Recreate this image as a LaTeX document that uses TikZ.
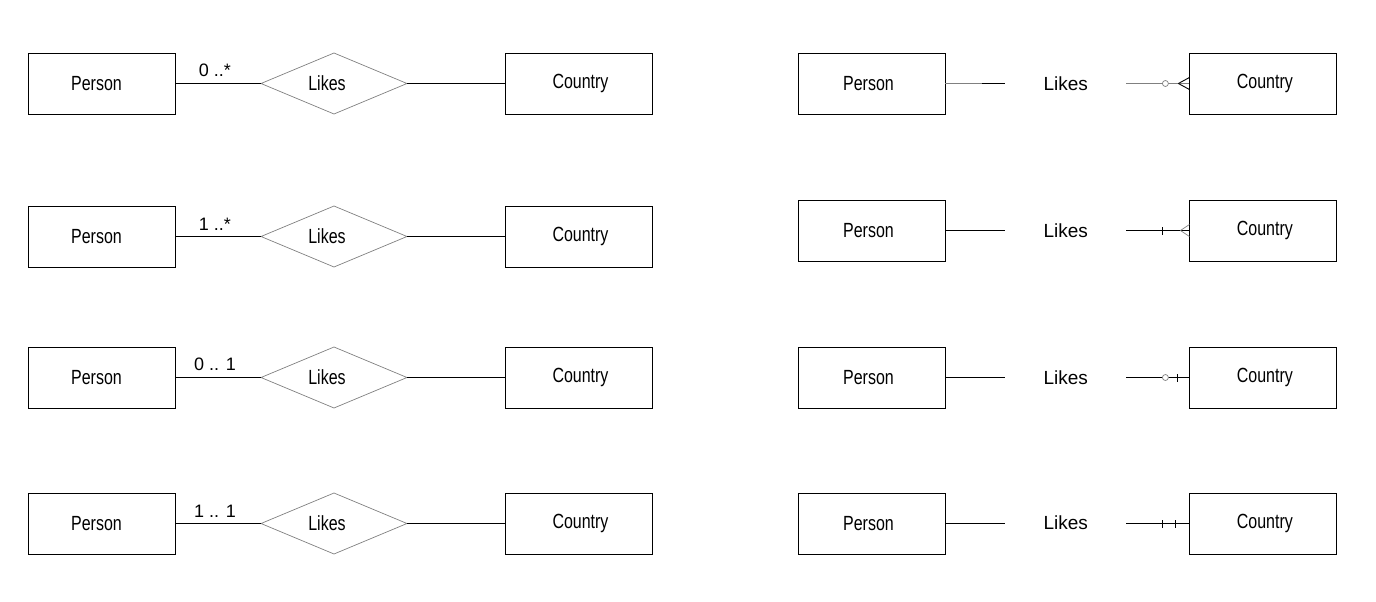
\documentclass[tikz,border=0pt]{standalone}
\usepackage{fontspec}
\setmainfont{Liberation Sans}
\newfontfamily\narrowfont[FakeStretch=0.78]{Liberation Sans}
\usepackage{xcolor}
\usepackage{tikz}
\usetikzlibrary{positioning,shapes.geometric}

\begin{document}
\begin{tikzpicture}[x=1pt, y=-1pt,
  every node/.style={font=\fontsize{18}{22}\selectfont},
  entity/.style={draw, line width=0.9pt, minimum width=147pt,
                 minimum height=61pt, inner sep=0pt, outer sep=0pt,
                 font=\narrowfont\fontsize{20.5}{24}\selectfont},
  rel/.style={draw=gray, line width=0.7pt, diamond, minimum width=146pt,
              minimum height=61pt, inner sep=0pt, outer sep=0pt,
              font=\narrowfont\fontsize{20.5}{24}\selectfont},
  relname/.style={minimum width=121pt, inner sep=0pt,
                  font=\fontsize{19}{22}\selectfont},
  conn/.style={line width=0.9pt},
  faint/.style={line width=0.7pt, gray},
  mult/.style={inner sep=1pt, midway, above=5pt, xshift=-3pt}
]
\useasboundingbox (0,0) rectangle (1376,602);

% Chen notation (left)
\node[entity] (p1) at (101.5,83.5) {Person\kern10pt};
\node[rel, right=86pt of p1] (r1) {\makebox[0pt]{Likes\kern14pt}};
\node[entity, right=98pt of r1] (c1) {\kern4pt Country};
\node[entity] (p2) at (101.5,236.5) {Person\kern10pt};
\node[rel, right=86pt of p2] (r2) {\makebox[0pt]{Likes\kern14pt}};
\node[entity, right=98pt of r2] (c2) {\kern4pt Country};
\node[entity] (p3) at (101.5,377.5) {Person\kern10pt};
\node[rel, right=86pt of p3] (r3) {\makebox[0pt]{Likes\kern14pt}};
\node[entity, right=98pt of r3] (c3) {\kern4pt Country};
\node[entity] (p4) at (101.5,523.5) {Person\kern10pt};
\node[rel, right=86pt of p4] (r4) {\makebox[0pt]{Likes\kern14pt}};
\node[entity, right=98pt of r4] (c4) {\kern4pt Country};

\draw[conn] (p1)--(r1) node[mult]{0 ..*};
\draw[conn] (r1)--(c1);
\draw[conn] (p2)--(r2) node[mult]{1 ..*};
\draw[conn] (r2)--(c2);
\draw[conn] (p3)--(r3) node[mult]{0 .. 1};
\draw[conn] (r3)--(c3);
\draw[conn] (p4)--(r4) node[mult]{1 .. 1};
\draw[conn] (r4)--(c4);

% crow's foot notation (right)
\node[entity] (rp1) at (871.5,83.5) {Person\kern6pt};
\node[relname, right=60pt of rp1] (rl1) {Likes};
\node[entity, right=63pt of rl1] (rc1) {\kern4pt Country};
\node[entity] (rp2) at (871.5,230.5) {Person\kern6pt};
\node[relname, right=60pt of rp2] (rl2) {\raisebox{-1.5pt}{Likes}};
\node[entity, right=63pt of rl2] (rc2) {\kern4pt Country};
\node[entity] (rp3) at (871.5,377.5) {Person\kern6pt};
\node[relname, right=60pt of rp3] (rl3) {\raisebox{-2.5pt}{Likes}};
\node[entity, right=63pt of rl3] (rc3) {\kern4pt Country};
\node[entity] (rp4) at (871.5,523.5) {Person\kern6pt};
\node[relname, right=60pt of rp4] (rl4) {\raisebox{2.5pt}{Likes}};
\node[entity, right=63pt of rl4] (rc4) {\kern4pt Country};

\draw[faint] (rp1)--(rl1);
\draw[conn] ([xshift=-23pt]rl1.west)--(rl1.west);
\draw[faint] (rl1)--(rc1);
\draw[conn] ([xshift=-11pt]rc1.west)--([yshift=6pt]rc1.west);
\draw[conn] ([xshift=-11pt]rc1.west)--([yshift=-6pt]rc1.west);
\draw[faint, fill=white] ([xshift=-24pt]rc1.west) circle (3pt);

\draw[conn] (rp2)--(rl2);
\draw[conn] (rl2)--(rc2);
\draw[conn] ([xshift=-27pt,yshift=-4pt]rc2.west)--([xshift=-27pt,yshift=4pt]rc2.west);
\draw[faint] ([xshift=-9pt]rc2.west)--([yshift=6pt]rc2.west);
\draw[faint] ([xshift=-9pt]rc2.west)--([yshift=-6pt]rc2.west);

\draw[conn] (rp3)--(rl3);
\draw[conn] (rl3)--(rc3);
\draw[faint, fill=white] ([xshift=-24pt]rc3.west) circle (3pt);
\draw[conn] ([xshift=-12pt,yshift=-4pt]rc3.west)--([xshift=-12pt,yshift=4pt]rc3.west);

\draw[conn] (rp4)--(rl4);
\draw[conn] (rl4)--(rc4);
\draw[conn] ([xshift=-27pt,yshift=-4pt]rc4.west)--([xshift=-27pt,yshift=4pt]rc4.west);
\draw[conn] ([xshift=-14pt,yshift=-4pt]rc4.west)--([xshift=-14pt,yshift=4pt]rc4.west);
\end{tikzpicture}
\end{document}
